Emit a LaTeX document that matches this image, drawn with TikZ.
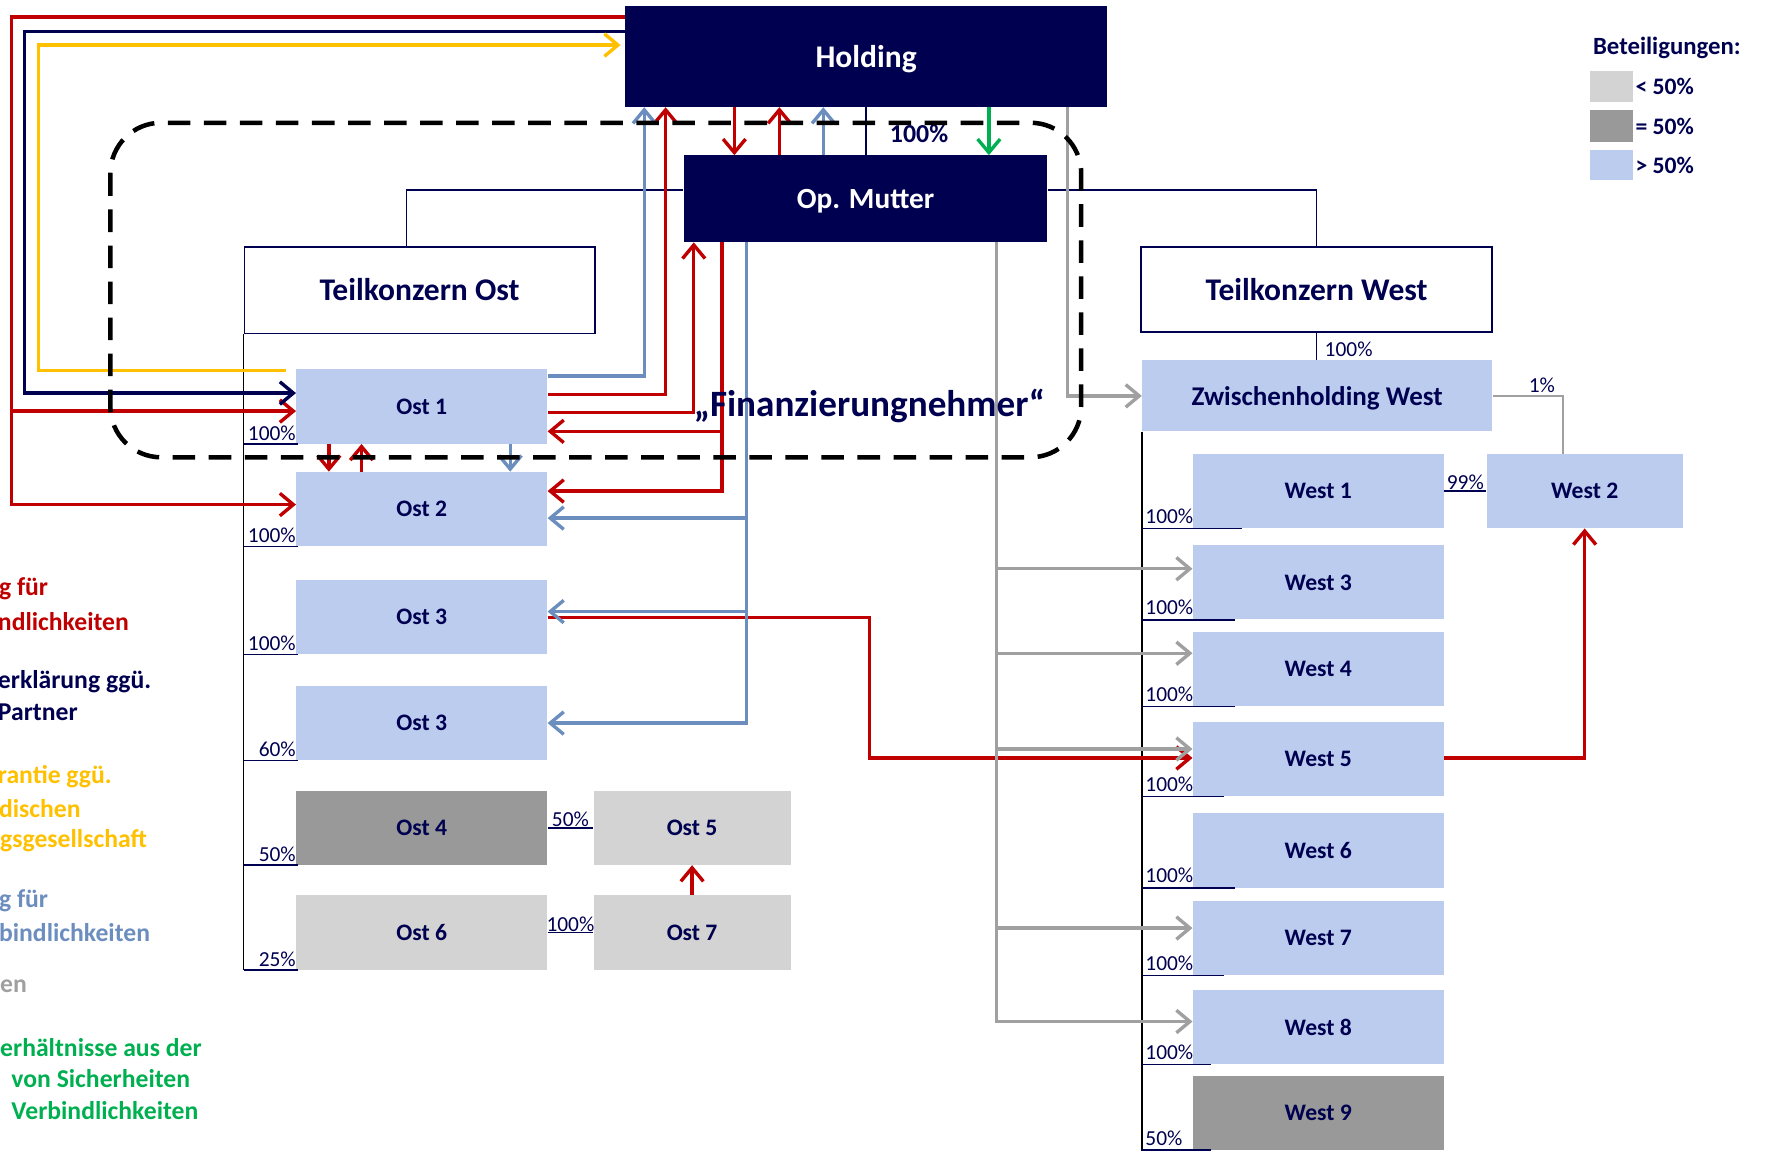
\documentclass[tikz,border=0pt]{standalone}
\usepackage{fontspec}
\setmainfont{Carlito}
\usetikzlibrary{arrows.meta,calc}

\definecolor{navy}{RGB}{0,0,80}
\definecolor{lblue}{RGB}{187,204,238}
\definecolor{lgray}{RGB}{211,211,211}
\definecolor{dgray}{RGB}{153,153,153}
\definecolor{fred}{RGB}{192,0,0}
\definecolor{fblue}{RGB}{108,142,191}
\definecolor{fyellow}{RGB}{255,192,0}
\definecolor{fgreen}{RGB}{0,176,80}
\definecolor{fgray}{RGB}{160,160,160}

\begin{document}
\begin{tikzpicture}[x=1pt,y=-1pt,>={Straight Barb[length=12pt,width=20pt]},
                    unit/.style={inner sep=0pt,text depth=0pt,text=navy,font=\bfseries\fontsize{21}{24}\selectfont},
                    blubox/.style={unit,fill=lblue,minimum width=223pt,minimum height=66pt},
                    dgbox/.style={blubox,fill=dgray},
                    lgbox/.style={blubox,fill=lgray},
                    navbox/.style={inner sep=0pt,text depth=0pt,fill=navy,text=white,font=\bfseries\fontsize{28}{32}\selectfont},
                    tkbox/.style={inner sep=0pt,draw=navy,line width=1.5pt,fill=white,text=navy,
                                  minimum width=311pt,minimum height=77pt,font=\bfseries\fontsize{28}{32}\selectfont},
                    pct/.style={inner sep=1pt,text=navy,font=\fontsize{19}{22}\selectfont},
                    thinline/.style={navy,line width=1.5pt},
                    trunk/.style={black,line width=1.5pt},
                    flow/.style={line width=3pt,->},
                    redarr/.style={flow,fred},
                    bluarr/.style={flow,fblue},
                    navarr/.style={flow,navy},
                    yelarr/.style={flow,fyellow},
                    grnarr/.style={flow,fgreen},
                    grayarr/.style={flow,fgray},
                    legtext/.style={inner sep=0pt,anchor=west,font=\bfseries\fontsize{22.8}{26}\selectfont}]

	\useasboundingbox (0,0) rectangle (1568,1022);

	\node[navbox,minimum width=428pt,minimum height=90pt] (hold)   at (769,50)      {Holding};
	\node[navbox,minimum width=323pt,minimum height=77pt,font=\bfseries\fontsize{26}{30}\selectfont]
	                                                       (mutter) at (768.5,176.5) {Op. Mutter};
	\node[tkbox]                                           (tost)   at (372.5,257.5) {Teilkonzern Ost};
	\node[tkbox,minimum width=312pt,minimum height=76pt]   (twest)  at (1169,257)   {Teilkonzern West};
	\node[blubox,minimum width=311pt,minimum height=63pt,font=\bfseries\fontsize{24}{28}\selectfont]
	                                                       (zw)     at (1169.5,351.5) {Zwischenholding West};

	\node[blubox] (ost1)  at (374.5,361) {Ost 1};
	\node[blubox] (ost2)  at (374.5,452) {Ost 2};
	\node[blubox] (ost3)  at (374.5,548) {Ost 3};
	\node[blubox] (ost3b) at (374.5,642) {Ost 3};
	\node[dgbox]  (ost4)  at (374.5,735) {Ost 4};
	\node[lgbox]  (ost6)  at (374.5,828) {Ost 6};
	\node[lgbox,minimum width=175pt] (ost5) at (614.5,735) {Ost 5};
	\node[lgbox,minimum width=175pt] (ost7) at (614.5,828) {Ost 7};

	\node[blubox] (w1) at (1170.5,436) {West 1};
	\node[blubox] (w3) at (1170.5,517) {West 3};
	\node[blubox] (w4) at (1170.5,594) {West 4};
	\node[blubox] (w5) at (1170.5,674) {West 5};
	\node[blubox] (w6) at (1170.5,755) {West 6};
	\node[blubox] (w7) at (1170.5,833) {West 7};
	\node[blubox] (w8) at (1170.5,912) {West 8};
	\node[dgbox]  (w9) at (1170.5,988) {West 9};
	\node[blubox,minimum width=174pt] (w2) at (1407,436) {West 2};

	% Beteiligungen
	\draw[thinline] (hold.south) -- (hold.south |- mutter.north);
	\draw[thinline] (mutter.west |- 0,169) -| (361,0 |- tost.north);
	\draw[thinline] (mutter.east |- 0,169) -| (twest.north);
	\draw[thinline] (twest.south) -- (twest.south |- zw.north);
	\draw[fgray,line width=1.5pt] (zw.east) -| (1388,0 |- w2.north);
	\draw[trunk] (tost.south west) -- (tost.south west |- ost6.south);
	\draw[trunk] (zw.south west) -- (zw.south west |- 0,1022);

	\foreach \n/\p in {ost1/100,ost2/100,ost3/100,ost3b/60,ost4/50,ost6/25}{
		\draw[thinline] (tost.south west |- \n.south) -- ([xshift=2pt]\n.south west);
		\node[pct,anchor=south east] (p-\n) at ([shift={(1pt,2pt)}]\n.south west) {\p\%};
	}
	\foreach \n/\p/\e in {w1/100/44,w3/100/38,w4/100/38,w5/100/28,w6/100/38,w7/100/28,w8/100/16,w9/50/16}{
		\draw[thinline] (zw.south west |- \n.south) -- ([xshift=\e pt]\n.south west);
		\node[pct,anchor=south west,yshift=3pt] (p-\n) at ([xshift=2pt]zw.south west |- \n.south) {\p\%};
	}
	\draw[thinline] (ost4.east) -- (ost5.west);
	\node[pct,anchor=south] (p-ost5) at ($(ost4.east)!0.5!(ost5.west)$) {50\%};
	\draw[thinline] (ost6.east) -- (ost7.west);
	\node[pct,anchor=south] (p-ost7) at ($(ost6.east)!0.5!(ost7.west)$) {100\%};
	\draw[thinline] (w1.east) -- (w2.west);
	\node[pct,anchor=south] (p-w2) at ($(w1.east)!0.5!(w2.west)$) {99\%};
	\node[pct,anchor=west] (p-zw) at (1175,310) {100\%};
	\node[pct] (p-one) at (1369,342) {1\%};
	\node[pct,font=\bfseries\fontsize{23}{26}\selectfont] (p-mutter) at (816,119) {100\%};

	% Haftung
	\draw[redarr] (hold.west |- 0,15) -| (10,448) -- (ost2.west |- 0,448);
	\draw[redarr] (10,365) -- (ost1.west |- 0,365);
	\path (652,0 |- hold.south) edge[redarr] (652,0 |- mutter.north);
	\path (692,0 |- mutter.north) edge[redarr] (692,0 |- hold.south);
	\draw[redarr] (ost1.east |- 0,350) -| (591,0 |- hold.south);
	\draw[redarr] (ost1.east |- 0,366) -| (616,0 |- mutter.south);
	\draw[redarr] (641,0 |- mutter.south) |- (ost2.east |- 0,436);
	\draw[redarr] (641,383) -- (ost1.east |- 0,383);
	\path (292,0 |- ost1.south) edge[redarr] (292,0 |- ost2.north);
	\path (321,0 |- ost2.north) edge[redarr] (321,0 |- ost1.south);
	\draw[redarr] (ost3.east) -| (772,673) -- (w5.west |- 0,673);
	\draw[redarr] (w5.east |- 0,673) -| (w2.south);
	\path (ost7.north) edge[redarr] (ost5.south);

	% Patronat, Garantie
	\draw[navarr] (hold.west |- 0,28) -| (22,349) -- (ost1.west |- 0,349);
	\coordinate (yelstart) at (254,329);
	\coordinate (yelend)   at (551,40);
	\draw[yelarr] (yelstart) -| (34,40) -- (yelend);

	% Haftung (blau)
	\draw[bluarr] (ost1.east |- 0,334) -| (572,0 |- hold.south);
	\path (731,0 |- mutter.north) edge[bluarr] (731,0 |- hold.south);
	\draw[bluarr] (663,0 |- mutter.south) |- (ost3b.east);
	\draw[bluarr] (663,460) -- (ost2.east |- 0,460);
	\draw[bluarr] (663,543) -- (ost3.east |- 0,543);
	\path (453,0 |- ost1.south) edge[bluarr] (453,0 |- ost2.north);

	\path (878,0 |- hold.south) edge[grnarr] (878,0 |- mutter.north);

	\draw[grayarr] (948,0 |- hold.south) |- (zw.west);
	\draw[grayarr] (885,0 |- mutter.south) |- (w8.west |- 0,907);
	\foreach \n/\y in {w3/505,w4/580,w5/665,w7/824}
		\draw[grayarr] (885,\y) -- (\n.west |- 0,\y);

	% Finanzierungnehmer
	\draw[black,line width=4pt,dash pattern=on 20pt off 12pt,rounded corners=45pt] (98,109) rectangle (960,406);
	\node[text=navy,inner sep=0pt,text depth=0pt,font=\bfseries\fontsize{33}{36}\selectfont] (fin) at (772,358) {„Finanzierungnehmer“};

	% Legende
	\node[text=navy,inner sep=0pt,text depth=0pt,font=\bfseries\fontsize{22}{26}\selectfont] (leg) at (1480,41) {Beteiligungen:};
	\foreach \c/\a/\b/\t [count=\i] in {lgray/63/91/< 50\%,dgray/98/126/= 50\%,lblue/133/160/> 50\%}{
		\fill[\c] (1412,\a) rectangle (1450,\b);
		\node[text=navy,inner sep=0pt,anchor=west,font=\bfseries\fontsize{21}{24}\selectfont] (leg\i) at (1452,\a/2+\b/2) {\t};
	}

	\foreach \x/\y/\c/\t [count=\i] in {-1/523/fred/g für,-2/552/fred/ndlichkeiten,
	                                   -2/605/navy/erklärung ggü.,-2/632/navy/Partner,
	                                   -2/690/fyellow/rantie ggü.,-1/718/fyellow/dischen,0/746/fyellow/gsgesellschaft,
	                                   -1/800/fblue/g für,-1/828/fblue/bindlichkeiten,
	                                   0/876/fgray/en,
	                                   0/930/fgreen/erhältnisse aus der,10/958/fgreen/von Sicherheiten,10/986/fgreen/Verbindlichkeiten}
		\node[legtext,text=\c] (txt\i) at (\x,\y) {\t};

\end{tikzpicture}
\end{document}
